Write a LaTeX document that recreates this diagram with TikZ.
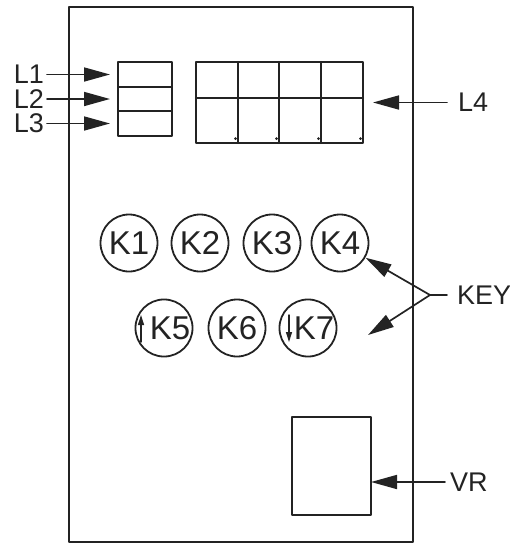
\documentclass[tikz,border=0pt]{standalone}
\usepackage{fontspec}
\setmainfont{Liberation Sans}
\usetikzlibrary{arrows.meta,positioning}
\definecolor{ink}{RGB}{35,35,35}
\tikzset{
	pointer/.style={draw=ink, line width=1.7pt, -{Triangle[length=26pt,width=14pt]}},
	tick/.style={draw=ink, line width=1.4pt, -{Triangle[length=10pt,width=6pt]}},
	tag/.style={font=\fontsize{27}{30}\selectfont, text=ink, inner sep=0pt},
	cell/.style={draw=ink, line width=2.3pt, inner sep=0pt, outer sep=0pt},
	keycap/.style={circle, draw=ink, line width=1.8pt, minimum size=57pt, inner sep=0pt, font=\fontsize{33}{36}\selectfont, text=ink},
}

\begin{document}
\begin{tikzpicture}[x=1pt, y=-1pt, line cap=round, line join=round]
		\useasboundingbox (0,0) rectangle (510,544);
		% front panel
		\draw[cell, line width=2.6pt] (69,7) rectangle (413,542);
		% lamps L1-L3
		\node[cell, minimum width=54, minimum height=24.5] (lamp1) at (145,74.5) {};
		\node[cell, minimum width=54, minimum height=24.5, below=0pt of lamp1] (lamp2) {};
		\node[cell, minimum width=54, minimum height=24.5, below=0pt of lamp2] (lamp3) {};
		\node[tag, left=74pt of lamp1] (l1) {L1};
		\node[tag, left=74pt of lamp2] (l2) {L2};
		\node[tag, left=74pt of lamp3] (l3) {L3};
		\draw[pointer, shorten <=3pt, shorten >=8pt] (l1) -- (lamp1);
		\draw[pointer, shorten <=3pt, shorten >=8pt] (l2) -- (lamp2);
		\draw[pointer, shorten <=3pt, shorten >=8pt] (l3) -- (lamp3);
		% display L4
		\node[cell, minimum width=167, minimum height=81] (disp) at (279.5,102.5) {};
		\draw[cell] (196,98) -- (363,98);
		\foreach \x in {238,279,321}
			\draw[cell] (\x,62) -- (\x,143);
		\foreach \x in {235.5,276.5,318.5,360.5}
			\fill[ink] (\x,138.5) circle (1.5);
		\node[tag, right=95pt of disp] (l4) {L4};
		\draw[pointer, shorten <=11pt, shorten >=10pt] (l4) -- (disp);
		% keys
		\node[keycap] (k1) at (129,243) {K1};
		\node[keycap] (k2) at (200,243) {K2};
		\node[keycap] (k3) at (272,243) {K3};
		\node[keycap] (k4) at (340,243) {K4};
		\node[keycap] (k5) at (164,328) {\hspace*{12pt}K5};
		\node[keycap] (k6) at (237,328) {K6};
		\node[keycap] (k7) at (308,328) {\hspace*{12pt}K7};
		\draw[tick] ([xshift=-23pt,yshift=-14pt]k5.center) -- ([xshift=-23pt,yshift=13pt]k5.center);
		\draw[tick] ([xshift=-19pt,yshift=13pt]k7.center) -- ([xshift=-19pt,yshift=-14pt]k7.center);
		\node[tag, anchor=west] (keytag) at (457,295) {KEY};
		\coordinate (fork) at (430,295);
		\coordinate (keyend) at (368,335);
		\draw[ink, line width=1.7pt, shorten <=10pt] (keytag) -- (fork);
		\draw[pointer] (fork) -- (k4);
		\draw[pointer] (fork) -- (keyend);
		% trimmer VR
		\node[cell, minimum width=79, minimum height=98] (vrbox) at (331.5,466) {};
		\node[tag, anchor=west] (vrtag) at (450,482) {VR};
		\draw[pointer, shorten <=5pt] (vrtag.west) -- (vrtag.west -| vrbox.east);
	\end{tikzpicture}
\end{document}
